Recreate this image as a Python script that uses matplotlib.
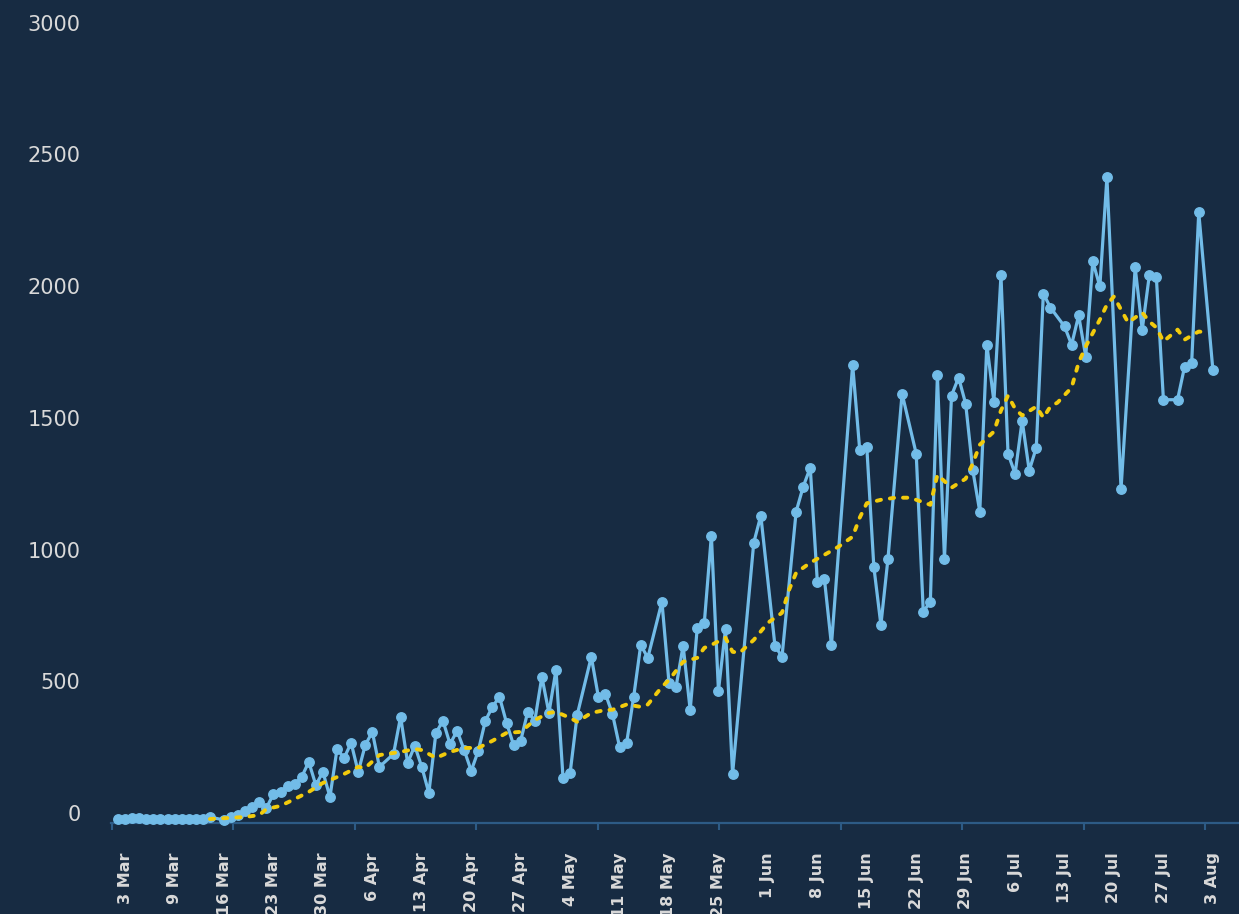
import matplotlib
matplotlib.use("Agg")
import matplotlib.pyplot as plt
import matplotlib.transforms as mtransforms
import numpy as np

# daily new cases (day index on the x axis, gaps where a day is missing)
cases_day = [0, 1, 2, 3, 4, 5, 6, 7, 8, 9, 10, 11, 12,
             13, 15, 16, 17, 18, 19, 20, 21, 22, 23, 24, 25, 26, 27, 28, 29, 30, 31, 32, 33, 34, 35, 36, 37,
             39, 40, 41, 42, 43, 44, 45, 46, 47, 48, 49, 50, 51, 52, 53, 54, 55, 56, 57, 58, 59, 60, 61, 62, 63, 64, 65,
             67, 68, 69, 70, 71, 72, 73, 74, 75,
             77, 78, 79, 80, 81, 82, 83, 84, 85, 86, 87,
             90, 91, 93, 94, 96, 97, 98, 99, 100, 101,
             104, 105, 106, 107, 108, 109, 111, 113, 114, 115, 116, 117, 118, 119, 120, 121, 122, 123, 124, 125,
             126, 127, 128, 129, 130, 131, 132,
             134, 135, 136, 137, 138, 139, 140, 142, 144, 145, 146, 147, 148, 150, 151, 152, 153, 155]
cases = [15, 15, 20, 20, 15, 15, 15, 15, 15, 15, 15, 15, 15,
         23, 11, 23, 30, 46, 61, 80, 57, 110, 118, 141, 148, 175, 232, 144, 194, 99, 281, 247, 304, 194, 296, 346, 213,
         262, 403, 228, 293, 213, 114, 342, 388, 300, 350, 277, 198, 274, 388, 441, 479, 380, 296, 312, 422, 388, 555,
         418, 581, 171, 190, 410,
         631, 479, 490, 414, 289, 304, 479, 676, 627,
         840, 532, 517, 673, 429, 741, 760, 1091, 502, 737, 186,
         1064, 1167, 673, 631, 1182, 1277, 1349, 916, 927, 676,
         1740, 1417, 1429, 973, 752, 1003, 1630, 1402, 802, 840, 1699, 1003, 1623, 1691, 1592, 1341, 1182, 1816, 1600,
         2079, 1402, 1326, 1528, 1338, 1425, 2010, 1957,
         1885, 1816, 1927, 1771, 2132, 2037, 2451, 1269, 2109, 1873, 2079, 2071, 1607, 1607, 1733, 1748, 2318, 1721]

# rolling average (yellow dashed)
avg_day = [13, 18, 20, 21, 23, 25, 27, 29, 30, 32, 34, 35, 37, 40, 42, 43, 45, 47, 49, 51,
           53, 55, 57, 59, 61, 62, 64, 65, 67, 69, 70, 72, 74, 75, 77, 78, 80, 82, 83, 84,
           86, 87, 88, 90, 92, 94, 95, 96, 98, 100, 102, 104, 105, 106, 108, 110, 112, 113, 115, 116,
           118, 120, 121, 122, 124, 125, 126, 127, 128, 130, 131, 132, 133, 135, 136, 137, 139, 140, 141, 142,
           143, 145, 146, 147, 148, 150, 151, 153, 154]
avg = [15, 23, 30, 53, 65, 91, 118, 152, 163, 186, 213, 209, 258, 270, 281, 277, 247, 270, 285, 285,
       312, 342, 346, 391, 418, 422, 399, 384, 418, 429, 430, 450, 441, 450, 517, 543, 612, 627, 665, 676,
       703, 650, 646, 695, 760, 798, 885, 950, 988, 1018, 1049, 1087, 1159, 1214, 1227, 1235, 1235, 1227, 1208, 1322,
       1273, 1307, 1364, 1436, 1486, 1566, 1623, 1573, 1547, 1581, 1539, 1581, 1596, 1653, 1748, 1809, 1911, 1968, 1999, 1949,
       1900, 1938, 1904, 1881, 1828, 1873, 1835, 1866, 1862]

date_labels = ["3 Mar", "9 Mar", "16 Mar", "23 Mar", "30 Mar", "6 Apr", "13 Apr", "20 Apr", "27 Apr",
               "4 May", "11 May", "18 May", "25 May", "1 Jun", "8 Jun", "15 Jun", "22 Jun", "29 Jun",
               "6 Jul", "13 Jul", "20 Jul", "27 Jul", "3 Aug"]
label_pos = [1 + 7 * i for i in range(len(date_labels))]
y_ticks = [0, 500, 1000, 1500, 2000, 2500, 3000]

bg = "#172b42"
blue = "#72bce8"
yellow = "#f2cb0c"
axis_col = "#2d5b86"
text_col = "#d9d9d9"

fig = plt.figure(figsize=(12.39, 9.14), dpi=100)
fig.patch.set_facecolor(bg)
ax = fig.add_axes([111 / 1239, 91 / 914, 1 - 111 / 1239, (823 - 32.8) / 914])
ax.set_facecolor(bg)

ax.plot(cases_day, cases, color=blue, lw=2.3, marker="o", ms=6.8, zorder=3, clip_on=False)
ax.plot(avg_day, avg, color=yellow, lw=2.8, ls=(0, (1.1, 2.3)), dash_capstyle="round", zorder=4)

ax.set_xlim(-1, 158.7)
ax.set_ylim(0, 3000)

for s in ["top", "left", "right"]:
    ax.spines[s].set_visible(False)
ax.spines["bottom"].set_color(axis_col)
ax.spines["bottom"].set_linewidth(1.6)

# y labels sit a little above their value
ax.set_yticks(y_ticks)
ax.tick_params(axis="y", length=0, pad=22, labelsize=15, labelcolor=text_col)
offset = mtransforms.ScaledTranslation(0, 0.10, fig.dpi_scale_trans)
for lab in ax.get_yticklabels():
    lab.set_transform(lab.get_transform() + offset)

# weekly date labels, tick marks on their own spacing
ax.set_xticks(label_pos)
ax.set_xticklabels(date_labels, rotation=90, fontweight="bold")
ax.tick_params(axis="x", which="major", length=0, pad=21, labelsize=11.5, labelcolor=text_col)
ax.set_xticks(np.arange(-0.9, 156, 17.2), minor=True)
ax.tick_params(axis="x", which="minor", length=5, width=1.5, color=axis_col)

fig.savefig("out.png", dpi=100, facecolor=bg)
